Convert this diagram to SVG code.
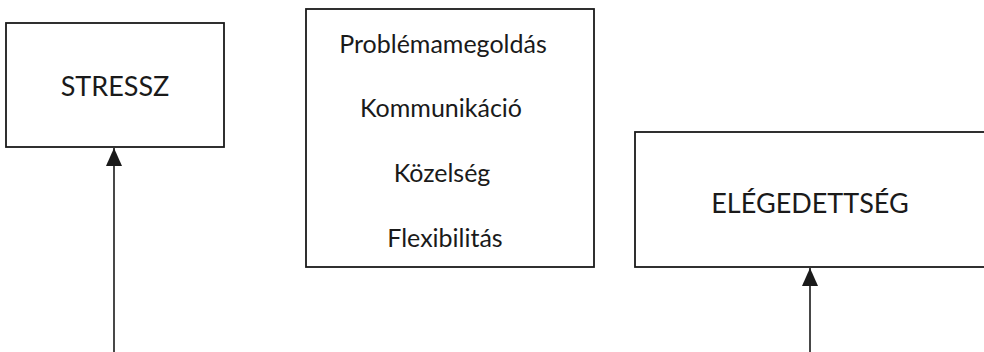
<svg xmlns="http://www.w3.org/2000/svg" width="984" height="352" viewBox="0 0 984 352">
<defs>
<style>
.box{fill:#fff;stroke:#1a1a1a;stroke-width:1.8}
.t{font-family:Lato,"Open Sans","Liberation Sans",sans-serif;fill:#1a1a1a;text-anchor:middle}
.big{font-size:27px}
.sm{font-size:25px}
.ln{stroke:#1a1a1a;stroke-width:1.6;fill:none}
</style>
<marker id="ah" markerWidth="18" markerHeight="16" refX="18" refY="8" orient="auto" markerUnits="userSpaceOnUse" viewBox="0 0 18 16">
<path d="M0,0 L18,8 L0,16 Z" fill="#1a1a1a"/>
</marker>
</defs>
<rect width="984" height="352" fill="#fff"/>
<g id="stressz">
<rect class="box" x="6" y="23" width="218" height="124"/>
<text class="t big" x="115" y="96">STRESSZ</text>
</g>
<g id="tenyezok">
<rect class="box" x="306" y="9" width="288" height="258"/>
<text class="t sm" x="443" y="53">Problémamegoldás</text>
<text class="t sm" x="441" y="117">Kommunikáció</text>
<text class="t sm" x="442" y="182">Közelség</text>
<text class="t sm" x="445" y="247">Flexibilitás</text>
</g>
<g id="elegedettseg">
<rect class="box" x="635" y="132" width="360" height="135"/>
<text class="t big" x="810" y="213">ELÉGEDETTSÉG</text>
</g>
<g id="connectors">
<line class="ln" x1="114" y1="352" x2="114" y2="148" marker-end="url(#ah)"/>
<line class="ln" x1="810" y1="352" x2="810" y2="268" marker-end="url(#ah)"/>
</g>
</svg>
